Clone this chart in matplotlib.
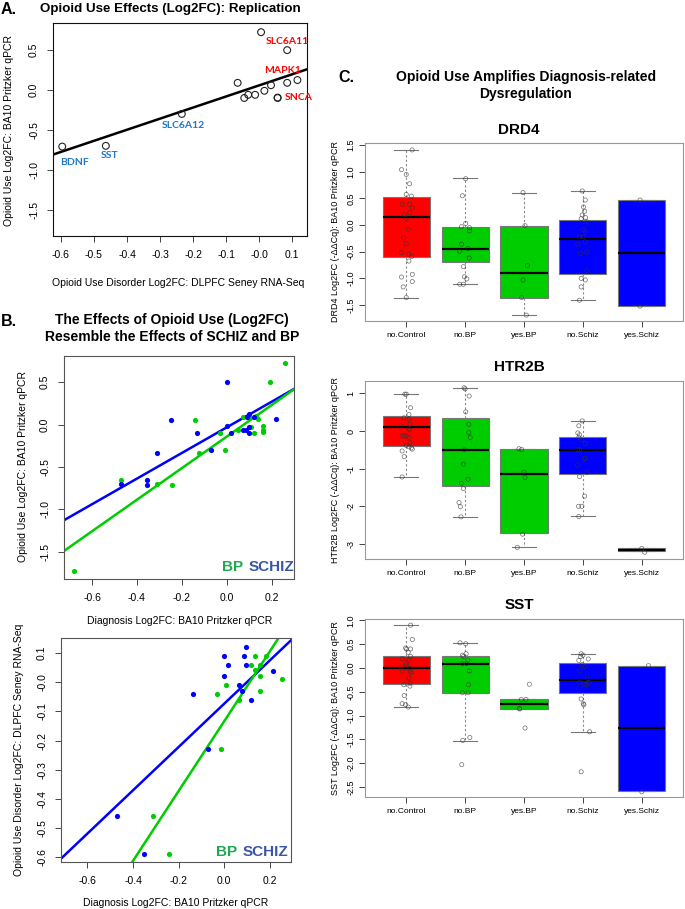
import matplotlib
matplotlib.use("Agg")
import matplotlib.pyplot as plt
from matplotlib.ticker import FormatStrFormatter
import numpy as np

plt.rcParams["font.family"] = ["Liberation Sans", "DejaVu Sans"]

W, H = 685, 909

# ---- panel A: replication scatter
rep_x = [-0.596, -0.464, -0.234, -0.065, -0.045, -0.033, -0.012, 0.006, 0.016, 0.036, 0.056, 0.056, 0.085, 0.085, 0.116]
rep_y = [-0.709, -0.700, -0.300, 0.090, -0.100, -0.060, -0.060, 0.725, -0.010, 0.060, -0.095, -0.100, 0.500, 0.090, 0.125]
rep_genes = {0: "BDNF", 1: "SST", 2: "SLC6A12", 12: "SLC6A11", 14: "MAPK1", 13: "SNCA"}
rep_fit = (1.39, 0.058)  # slope, intercept

# ---- panel B: diagnosis vs opioid effects
bp_x = [-0.682, -0.471, -0.311, -0.242, -0.140, -0.122, -0.030, -0.009, 0.071, 0.100, 0.110, 0.130, 0.140, 0.120, 0.160, 0.160, 0.160, 0.050, 0.193, 0.262]
bp_y = [-1.73, -0.654, -0.700, -0.709, 0.060, -0.330, -0.100, -0.300, 0.087, 0.090, -0.030, 0.100, 0.070, -0.100, -0.010, -0.060, -0.090, -0.060, 0.500, 0.726]
sz_x = [-0.471, -0.353, -0.353, -0.311, -0.250, -0.131, -0.071, 0.001, 0.021, 0.074, 0.086, 0.089, 0.100, 0.100, 0.100, 0.121, 0.221, 0.001]
sz_y = [-0.700, -0.654, -0.709, -0.330, 0.055, -0.100, -0.300, -0.012, -0.100, -0.063, -0.063, 0.087, 0.126, -0.030, -0.095, 0.095, 0.067, 0.500]
bp_fit = (1.86, -0.141)
sz_fit = (1.51, -0.032)

bp2_x = [0.136, 0.183, 0.116, 0.155, 0.136, 0.155, 0.006, -0.032, 0.065, 0.155, 0.255, -0.015, -0.313, -0.243]
bp2_y = [0.089, 0.089, 0.060, 0.060, 0.040, 0.020, -0.011, -0.040, -0.060, -0.031, 0.009, -0.230, -0.460, -0.590]
sz2_x = [0.095, -0.003, 0.085, 0.016, 0.095, -0.003, 0.214, -0.135, 0.066, 0.076, 0.116, -0.073, -0.472, -0.352]
sz2_y = [0.120, 0.089, 0.089, 0.060, 0.060, 0.020, 0.039, -0.040, -0.011, -0.031, -0.060, -0.230, -0.460, -0.590]
bp2_fit = (1.195, -0.134)
sz2_fit = (0.741, -0.074)

# ---- panel C: boxplots by group
groups = ["no.Control", "no.BP", "yes.BP", "no.Schiz", "yes.Schiz"]
group_colors = ["#ff0000", "#00cd00", "#00cd00", "#0000ff", "#0000ff"]

drd4_q1 = [-0.594, -0.70, -1.36, -0.925, -1.51]
drd4_med = [0.156, -0.44, -0.89, -0.27, -0.52]
drd4_q3 = [0.53, -0.044, -0.02, 0.094, 0.47]
drd4_lo = [-1.36, -1.11, -1.69, -1.41, -1.51]
drd4_hi = [1.41, 0.876, 0.61, 0.64, 0.47]
drd4_pts = [
    [1.41, 1.04, 0.95, 0.775, 0.575, 0.544, 0.39, 0.39, 0.325, 0.23, 0.19, 0.125, -0.08, -0.24, -0.35, -0.52, -0.545, -0.59, -0.675, -0.925, -0.975, -1.06, -1.16, -1.36],
    [0.87, 0.55, 0.03, -0.03, -0.05, -0.11, -0.36, -0.49, -0.44, -0.62, -0.78, -1.01, -0.97, -1.11, -1.11],
    [0.61, -0.01, -0.76, -1.03, -1.36, -1.69],
    [0.64, 0.47, 0.34, 0.26, 0.19, 0.14, 0.12, 0.06, -0.09, -0.13, -0.22, -0.22, -0.31, -0.36, -0.51, -0.53, -0.86, -1.0, -1.03, -1.16, -1.41],
    [0.47, -1.52],
]
drd4_jit = [
    [0.10, -0.08, 0.0, 0.057, 0.0, 0.086, -0.063, 0.057, 0.103, 0.057, -0.034, 0.0, 0.034, -0.046, 0.0, -0.08, 0.046, 0.091, 0.046, 0.103, -0.08, 0.103, -0.051, 0.0],
    [0.01, -0.046, 0.01, -0.063, 0.074, 0.074, -0.063, -0.091, 0.051, 0.069, -0.029, 0.029, -0.011, -0.091, -0.029],
    [-0.017, 0.017, 0.057, -0.017, -0.04, 0.04],
    [-0.011, 0.04, 0.011, 0.029, -0.011, 0.046, -0.029, 0.069, 0.011, 0.046, -0.057, 0.0, 0.04, -0.086, 0.069, -0.04, 0.069, -0.029, 0.04, -0.029, -0.057],
    [-0.03, -0.03],
]

htr_q1 = [-0.41, -1.45, -2.72, -1.14, -3.19]
htr_med = [0.098, -0.50, -1.15, -0.51, -3.155]
htr_q3 = [0.40, 0.34, -0.49, -0.16, -3.12]
htr_lo = [-1.22, -2.28, -3.09, -2.27, -3.19]
htr_hi = [0.98, 1.15, -0.47, 0.27, -3.12]
htr_pts = [
    [0.98, 0.98, 0.62, 0.44, 0.35, 0.32, 0.14, 0.18, 0.07, 0.03, -0.13, -0.13, -0.13, -0.17, -0.31, -0.38, -0.42, -0.45, -0.48, -0.53, -0.68, -1.22],
    [1.15, 1.12, 0.93, 0.51, 0.18, -0.04, -0.17, -0.50, -0.88, -1.28, -1.39, -1.53, -1.90, -2.01, -2.28],
    [-0.47, -0.49, -1.09, -1.23, -2.74, -3.09],
    [0.27, 0.14, -0.05, -0.10, -0.17, -0.24, -0.33, -0.50, -0.50, -0.72, -0.74, -0.90, -1.10, -1.21, -1.73, -2.0, -2.0, -2.27],
    [-3.12, -3.22],
]
htr_jit = [
    [0.0, -0.023, 0.074, 0.046, -0.04, 0.046, -0.086, 0.063, 0.046, 0.057, -0.069, 0.0, -0.034, 0.046, 0.063, 0.0, 0.046, 0.086, 0.103, -0.069, -0.034, -0.069],
    [-0.017, 0.0, 0.069, 0.011, 0.063, 0.063, 0.086, -0.011, -0.029, 0.051, -0.063, -0.029, -0.103, -0.08, -0.069],
    [-0.086, -0.04, 0.0, 0.017, -0.023, -0.114],
    [-0.011, -0.069, -0.086, -0.057, -0.069, -0.017, 0.04, -0.057, -0.086, 0.04, 0.029, -0.091, 0.069, -0.057, 0.029, -0.074, -0.017, -0.069],
    [0.0, 0.05],
]

sst_q1 = [-0.33, -0.52, -0.86, -0.52, -2.58]
sst_med = [0.0, 0.09, -0.755, -0.26, -1.27]
sst_q3 = [0.245, 0.25, -0.65, 0.11, 0.05]
sst_lo = [-0.82, -1.53, -0.86, -1.34, -2.58]
sst_hi = [0.90, 0.53, -0.65, 0.295, 0.05]
sst_pts = [
    [0.90, 0.60, 0.42, 0.40, 0.40, 0.33, 0.245, 0.195, 0.17, 0.105, 0.02, 0.05, 0.0, 0.0, -0.07, -0.07, -0.1, -0.21, -0.32, -0.35, -0.38, -0.58, -0.75, -0.77, -0.82],
    [0.53, 0.51, 0.27, 0.24, 0.30, 0.17, 0.09, 0.09, -0.06, -0.35, -0.52, -0.52, -1.52, -1.46, -2.03],
    [-0.34, -0.66, -0.66, -0.85, -0.86, -1.26],
    [0.30, 0.27, 0.24, 0.16, 0.19, 0.07, 0.03, -0.05, -0.22, -0.30, -0.30, -0.35, -0.35, -0.65, -0.75, -0.77, -1.34, -2.18],
    [0.05, -2.6],
]
sst_jit = [
    [0.074, 0.103, -0.011, 0.006, 0.074, 0.034, 0.074, -0.069, 0.046, 0.0, -0.08, 0.0, 0.017, 0.063, -0.069, 0.074, 0.086, 0.046, 0.063, -0.04, 0.063, -0.034, -0.069, -0.011, 0.034],
    [-0.086, 0.011, -0.046, -0.029, 0.017, 0.046, -0.046, 0.029, 0.074, 0.057, -0.046, 0.051, -0.04, 0.08, -0.057],
    [0.091, -0.046, 0.034, -0.074, -0.074, 0.017],
    [-0.029, 0.0, -0.04, -0.069, 0.091, -0.011, 0.029, -0.057, 0.08, 0.103, -0.057, 0.029, 0.069, -0.029, 0.006, 0.017, 0.114, -0.029],
    [0.114, 0.0],
]

GREEN = "#00cd00"
BLUE = "#0000ff"
TXT_GREEN = "#1fa84f"
TXT_BLUE = "#3a55a5"


def rect(x0, y0, x1, y1):
    return [x0 / W, 1 - y1 / H, (x1 - x0) / W, (y1 - y0) / H]


def ftext(x, y, s, **kw):
    kw.setdefault("ha", "center")
    kw.setdefault("va", "center")
    fig.text(x / W, 1 - y / H, s, **kw)


def r_style(ax, edge="#222222", fs=7.5, pad=6):
    for sp in ax.spines.values():
        sp.set_color(edge)
        sp.set_linewidth(0.8)
    ax.tick_params(direction="out", length=4, width=0.7, color="#444444",
                   labelsize=fs, pad=pad)
    for lab in ax.get_yticklabels():
        lab.set_rotation(90)
        lab.set_va("center")


def draw_fit(ax, fit, color, lw=1.8):
    xl = np.array(ax.get_xlim())
    ax.plot(xl, fit[0] * xl + fit[1], color=color, lw=lw)
    ax.set_xlim(xl)


def ticks(a, b, step):
    return np.round(np.arange(a, b + step / 2, step), 2)


fig = plt.figure(figsize=(W / 100, H / 100), dpi=100)

# ---------------- A
axA = fig.add_axes(rect(53, 23, 307, 236))
axA.set_xlim(-0.624, 0.145)
axA.set_ylim(-1.83, 0.84)
axA.scatter(rep_x, rep_y, s=24, facecolors="none", edgecolors="#222222", linewidths=0.8, zorder=3)
draw_fit(axA, rep_fit, "black")
axA.set_xticks(ticks(-0.6, 0.1, 0.1))
axA.set_yticks(ticks(-1.5, 0.5, 0.5))
axA.xaxis.set_major_formatter(FormatStrFormatter("%.1f"))
axA.yaxis.set_major_formatter(FormatStrFormatter("%.1f"))
r_style(axA, edge="#111111")
label_off = {"BDNF": (12, -16), "SST": (4, -10), "SLC6A12": (2, -12),
             "SLC6A11": (0, 9), "MAPK1": (-15, 10), "SNCA": (12, -15)}
for i, g in rep_genes.items():
    col = "#1f78c8" if rep_y[i] < -0.2 else "#ff0000"
    dx, dy = label_off[g]
    axA.annotate(g, (rep_x[i], rep_y[i]), xytext=(dx, dy), textcoords="offset pixels",
                 ha="center", va="center", color=col, fontsize=7.5, fontweight="bold",
                 family=["Lato", "DejaVu Sans"], annotation_clip=False)
ftext(1, 9, "A.", ha="left", fontsize=11.5, fontweight="bold")
ftext(40, 9, "Opioid Use Effects (Log2FC): Replication", ha="left", fontsize=9.6, fontweight="bold")
ftext(178, 283, "Opioid Use Disorder Log2FC: DLPFC Seney RNA-Seq", fontsize=7.5)
ftext(9, 130, "Opioid Use Log2FC: BA10 Pritzker qPCR", fontsize=7.5, rotation=90)

# ---------------- B (top)
ftext(1, 322, "B.", ha="left", fontsize=11.5, fontweight="bold")
ftext(172, 320, "The Effects of Opioid Use (Log2FC)", fontsize=10, fontweight="bold")
ftext(172, 337, "Resemble the Effects of SCHIZ and BP", fontsize=10, fontweight="bold")

axB = fig.add_axes(rect(64, 356, 294, 579))
axB.set_xlim(-0.725, 0.30)
axB.set_ylim(-1.82, 0.81)
axB.scatter(bp_x, bp_y, s=14, color=GREEN, zorder=3, linewidths=0)
axB.scatter(sz_x, sz_y, s=14, color=BLUE, zorder=3, linewidths=0)
draw_fit(axB, sz_fit, BLUE)
draw_fit(axB, bp_fit, GREEN)
axB.set_xticks(ticks(-0.6, 0.2, 0.2))
axB.set_yticks(ticks(-1.5, 0.5, 0.5))
axB.xaxis.set_major_formatter(FormatStrFormatter("%.1f"))
axB.yaxis.set_major_formatter(FormatStrFormatter("%.1f"))
r_style(axB, edge="#555555")
ftext(222, 567, "BP", ha="left", fontsize=11, fontweight="bold", color=TXT_GREEN)
ftext(249, 567, "SCHIZ", ha="left", fontsize=11, fontweight="bold", color=TXT_BLUE)
ftext(180, 621, "Diagnosis Log2FC: BA10 Pritzker qPCR", fontsize=7.5)
ftext(23, 467, "Opioid Use Log2FC: BA10 Pritzker qPCR", fontsize=7.5, rotation=90)

# ---------------- B (bottom)
axB2 = fig.add_axes(rect(61, 638, 291, 862))
axB2.set_xlim(-0.716, 0.293)
axB2.set_ylim(-0.616, 0.151)
axB2.scatter(bp2_x, bp2_y, s=14, color=GREEN, zorder=3, linewidths=0)
axB2.scatter(sz2_x, sz2_y, s=14, color=BLUE, zorder=3, linewidths=0)
draw_fit(axB2, sz2_fit, BLUE)
draw_fit(axB2, bp2_fit, GREEN)
axB2.set_ylim(-0.616, 0.151)
axB2.set_xticks(ticks(-0.6, 0.2, 0.2))
axB2.set_yticks(ticks(-0.6, 0.1, 0.1))
axB2.xaxis.set_major_formatter(FormatStrFormatter("%.1f"))
axB2.yaxis.set_major_formatter(FormatStrFormatter("%.1f"))
r_style(axB2, edge="#555555")
ftext(216, 852, "BP", ha="left", fontsize=11, fontweight="bold", color=TXT_GREEN)
ftext(243, 852, "SCHIZ", ha="left", fontsize=11, fontweight="bold", color=TXT_BLUE)
ftext(176, 903, "Diagnosis Log2FC: BA10 Pritzker qPCR", fontsize=7.5)
ftext(19, 750, "Opioid Use Disorder Log2FC: DLPFC Seney RNA-Seq", fontsize=7.5, rotation=90)

# ---------------- C
ftext(338, 77, "C.", ha="left", fontsize=11.5, fontweight="bold")
ftext(526, 77, "Opioid Use Amplifies Diagnosis-related", fontsize=10, fontweight="bold")
ftext(526, 94, "Dysregulation", fontsize=10, fontweight="bold")

panels = [
    ("DRD4", (143, 321), 130, (-1.80, 1.54), ticks(-1.5, 1.5, 0.5), "%.1f",
     drd4_q1, drd4_med, drd4_q3, drd4_lo, drd4_hi, drd4_pts, drd4_jit),
    ("HTR2B", (381, 559), 367, (-3.40, 1.33), ticks(-3, 1, 1), "%d",
     htr_q1, htr_med, htr_q3, htr_lo, htr_hi, htr_pts, htr_jit),
    ("SST", (619, 797), 605, (-2.71, 1.03), ticks(-2.5, 1.0, 0.5), "%.1f",
     sst_q1, sst_med, sst_q3, sst_lo, sst_hi, sst_pts, sst_jit),
]
for gene, (y0, y1), ty, ylim, yt, fmt, q1, med, q3, lo, hi, pts, jit in panels:
    ax = fig.add_axes(rect(365, y0, 683, y1))
    stats = [dict(q1=q1[i], med=med[i], q3=q3[i], whislo=lo[i], whishi=hi[i], fliers=[])
             for i in range(len(groups))]
    bp = ax.bxp(stats, positions=range(1, 6), widths=0.8, patch_artist=True, showfliers=False,
                boxprops=dict(edgecolor="#777777", linewidth=0.8),
                medianprops=dict(color="black", linewidth=1.6),
                whiskerprops=dict(color="#888888", linewidth=0.8, linestyle=(0, (2, 2))),
                capprops=dict(color="#777777", linewidth=0.8), capwidths=0.4)
    for patch, c in zip(bp["boxes"], group_colors):
        patch.set_facecolor(c)
    for i in range(len(groups)):
        xs = np.array(jit[i]) + (i + 1)
        ax.scatter(xs, pts[i], s=9, facecolors="none", edgecolors="#333333",
                   linewidths=0.5, alpha=0.7, zorder=4)
    ax.set_xlim(0.3, 5.7)
    ax.set_ylim(*ylim)
    ax.set_yticks(yt)
    ax.yaxis.set_major_formatter(FormatStrFormatter(fmt))
    ax.set_xticks(range(1, 6))
    ax.set_xticklabels(groups)
    r_style(ax, edge="#999999", fs=6, pad=3)
    ax.tick_params(axis="y", labelsize=6.5)
    ax.tick_params(axis="x", pad=4)
    ftext(519, ty, gene, fontsize=11, fontweight="bold")
    ftext(335, (y0 + y1) / 2, gene + " Log2FC (-\u0394\u0394Cq): BA10 Pritzker qPCR",
          fontsize=6.5, rotation=90)

fig.savefig("out.png", dpi=100)
